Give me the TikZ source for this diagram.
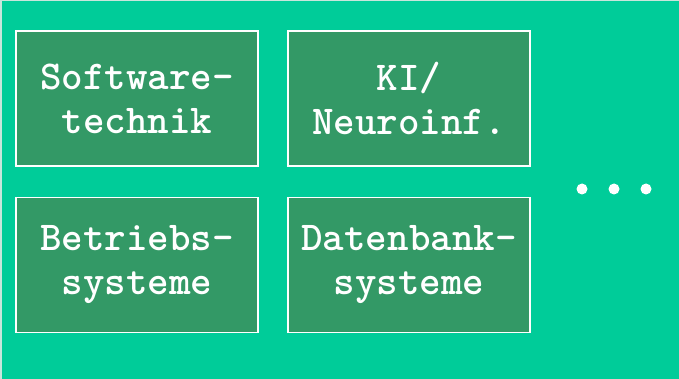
\documentclass[tikz,border=0pt]{standalone}
\usepackage{fontspec}
\newfontfamily\twfont{lmmonolt10-bold.otf}
\definecolor{bgteal}{RGB}{0,204,153}
\definecolor{boxgreen}{RGB}{51,153,102}
\definecolor{edgegray}{RGB}{200,230,220}
\begin{document}
\begin{tikzpicture}[x=1pt,y=-1pt,
  topic/.style={draw=white, line width=1.5pt, fill=boxgreen, minimum width=242pt, minimum height=135pt,
    inner sep=0pt, text=white, align=center,
    font=\twfont\fontsize{41pt}{44pt}\selectfont},
  dot/.style={circle, fill=white, minimum size=11pt, inner sep=0pt}]
\fill[bgteal] (0,0) rectangle (679,379);
\useasboundingbox (0,0) rectangle (679,379);
\draw[edgegray, line width=1.5pt] (0.75,379) -- (0.75,0.75) -- (679,0.75);
\node[topic] (se) at (137,98.5) {Software-\\technik};
\node[topic] (ki) at (409,98.5) {KI/\\Neuroinf.};
\node[topic] (bs) at (137,265) {Betriebs-\\systeme};
\node[topic] (db) at (409,265) {Datenbank-\\systeme};
\node[dot] (d1) at (582,189) {};
\node[dot] (d2) at (614,189) {};
\node[dot] (d3) at (646,189) {};
\end{tikzpicture}
\end{document}
